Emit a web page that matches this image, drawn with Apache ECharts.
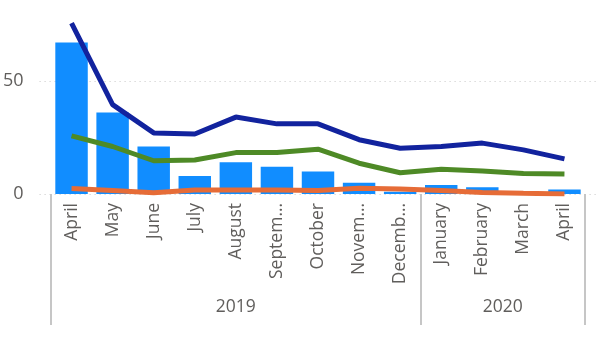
<!DOCTYPE html>
<html><head><meta charset="utf-8">
<script src="https://cdn.jsdelivr.net/npm/echarts@6/dist/echarts.min.js"></script>
<style>html,body{margin:0;padding:0;background:#fff}#c{width:611px;height:342px}</style>
</head><body><div id="c"></div>
<script>
var months = ['April','May','June','July','August','Septem…','October','Novem…','Decemb…','January','February','March','April'];
var years = ['2019','2020'];
var yearSpans = [9, 4];
var barValues = [67, 36, 21, 8, 14, 12, 10, 5, 1, 4, 3, 0.3, 2];
var navyValues = [75.5, 39.5, 27, 26.5, 34, 31, 31, 24, 20.2, 21, 22.5, 19.5, 15.5];
var greenValues = [25.7, 21, 14.7, 15, 18.3, 18.3, 19.8, 13.6, 9.4, 10.9, 10.2, 9.1, 8.8];
var orangeValues = [2.4, 1.5, 0.6, 1.8, 1.8, 1.8, 1.5, 2.5, 2.2, 1.5, 0.7, 0.3, 0];
var yTicks = [0, 50];

var font = '"Open Sans", "Noto Sans", sans-serif';
var gray = '#605E5C';
var chart = echarts.init(document.getElementById('c'), null, {renderer:'canvas'});

var boundaries = [0];
yearSpans.forEach(function(s, i){ boundaries.push(boundaries[i] + s); });
var yearCenters = yearSpans.map(function(s, i){ return boundaries[i] + s / 2; });

chart.setOption({
  animation: false,
  grid: [
    {left: 39, right: 13, top: 13, bottom: 148},
    {left: 51, right: 26, top: 13, bottom: 148}
  ],
  yAxis: [
    {type:'value', gridIndex:0, min:0, max:80, interval:50,
     axisLine:{show:false}, axisTick:{show:false},
     axisLabel:{color:gray, fontSize:18, fontFamily:font, margin:16,
       formatter:function(v){ return yTicks.indexOf(v) >= 0 ? String(v) : ''; }},
     splitLine:{show:true, lineStyle:{color:['#c8c8c8','#c8c8c8','rgba(0,0,0,0)'], type:[1,4], width:1}}},
    {type:'value', gridIndex:1, min:0, max:80, show:false, splitLine:{show:false}}
  ],
  xAxis: [
    {type:'category', gridIndex:0, data:months, show:false},
    {type:'category', gridIndex:1, data:months, position:'bottom',
     axisLine:{show:false}, axisTick:{show:false},
     axisLabel:{rotate:90, color:gray, fontSize:17.5, fontFamily:font, margin:9, interval:0}},
    {type:'value', gridIndex:1, min:0, max:months.length, position:'bottom', offset:0,
     axisLine:{show:false}, splitLine:{show:false},
     axisTick:{show:true, customValues:boundaries, length:131, lineStyle:{color:'#c6c6c6', width:2}},
     axisLabel:{customValues:yearCenters, color:gray, fontSize:17.5, fontFamily:font, margin:104,
       formatter:function(v){ for (var i=0;i<yearCenters.length;i++){ if (Math.abs(v-yearCenters[i])<1e-6) return years[i]; } return ''; }}}
  ],
  series: [
    {type:'bar', xAxisIndex:1, yAxisIndex:1, data:barValues, barWidth:'79%', itemStyle:{color:'#118DFF'}},
    {type:'line', xAxisIndex:1, yAxisIndex:1, data:navyValues, symbol:'none', lineStyle:{color:'#12239E', width:5}, z:3},
    {type:'line', xAxisIndex:1, yAxisIndex:1, data:greenValues, symbol:'none', lineStyle:{color:'#4E8A26', width:5}, z:3},
    {type:'line', xAxisIndex:1, yAxisIndex:1, data:orangeValues, symbol:'none', lineStyle:{color:'#E66C37', width:5}, z:3}
  ]
});
</script></body></html>
